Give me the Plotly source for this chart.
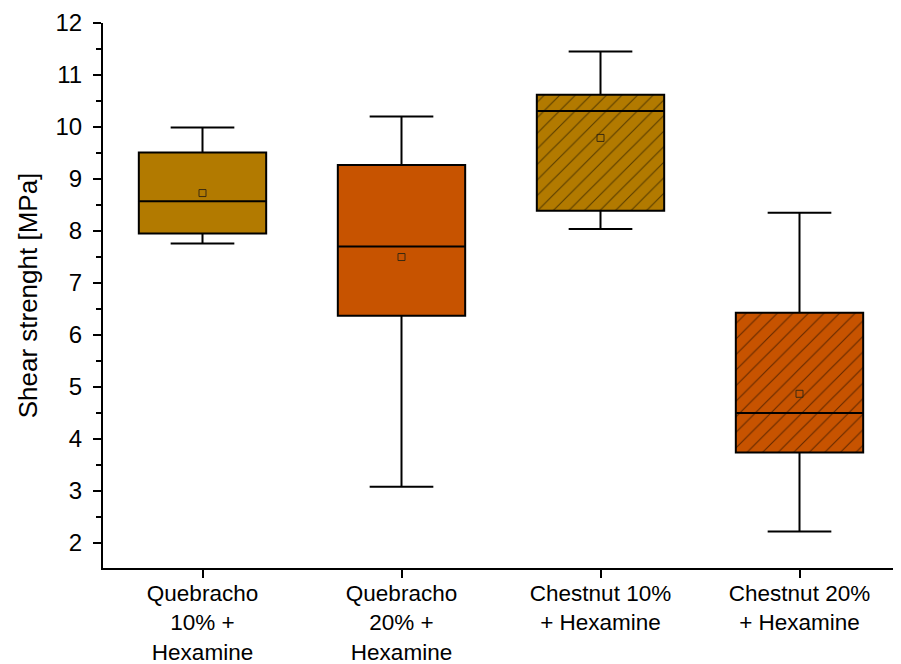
import plotly.graph_objects as go

categories = ["Quebracho<br>10% +<br>Hexamine", "Quebracho<br>20% +<br>Hexamine",
              "Chestnut 10%<br>+ Hexamine", "Chestnut 20%<br>+ Hexamine"]
lower_whisker = [7.76, 3.08, 8.04, 2.22]
q1 = [7.95, 6.37, 8.39, 3.74]
median = [8.57, 7.70, 10.31, 4.50]
q3 = [9.51, 9.27, 10.62, 6.43]
upper_whisker = [9.99, 10.20, 11.45, 8.35]
mean = [8.73, 7.50, 9.79, 4.87]
fill_colors = ["#B27A00", "#C75300", "#B27A00", "#C75300"]
hatched = [False, False, True, True]

BOX_W = 0.64
fig = go.Figure()

# hatched fills (drawn beneath the box outlines)
for i, cat in enumerate(categories):
    if hatched[i]:
        fig.add_trace(go.Bar(
            x=[i], y=[q3[i] - q1[i]], base=[q1[i]], width=BOX_W,
            marker=dict(color=fill_colors[i], line=dict(width=0),
                        pattern=dict(shape="/", fgcolor="#000000", size=11, solidity=0.1)),
            showlegend=False, hoverinfo="skip"))

for i, cat in enumerate(categories):
    fig.add_trace(go.Box(
        x=[i], q1=[q1[i]], median=[median[i]], q3=[q3[i]],
        lowerfence=[lower_whisker[i]], upperfence=[upper_whisker[i]],
        width=BOX_W, whiskerwidth=0.5,
        fillcolor="rgba(0,0,0,0)" if hatched[i] else fill_colors[i],
        line=dict(color="#000000", width=2),
        boxpoints=False, showlegend=False))

fig.add_trace(go.Scatter(
    x=list(range(len(categories))), y=mean, mode="markers",
    marker=dict(symbol="square-open", size=7, color="#3a2a10", line=dict(width=1)),
    showlegend=False))

fig.update_layout(
    width=901, height=664,
    margin=dict(l=95, r=10, t=15, b=104),
    paper_bgcolor="white", plot_bgcolor="white",
    boxmode="overlay", barmode="overlay",
    font=dict(family="Liberation Sans, Arial, sans-serif", color="#000000", size=22),
)
fig.update_xaxes(
    range=[-0.5, 3.5], tickmode="array", tickvals=list(range(len(categories))),
    ticktext=categories, showline=True, linecolor="#000000", linewidth=2,
    ticks="outside", ticklen=8, tickwidth=2, tickcolor="#000000",
    ticklabelstandoff=-4,
    showgrid=False, zeroline=False, tickfont=dict(size=22.5), automargin=False,
)
fig.update_yaxes(
    range=[1.52, 12], tickmode="linear", tick0=2, dtick=1,
    showline=True, linecolor="#000000", linewidth=2,
    ticks="outside", ticklen=8, tickwidth=2, tickcolor="#000000",
    ticklabelstandoff=6,
    minor=dict(ticks="outside", ticklen=5, tickwidth=2, tickcolor="#000000", dtick=0.5, tick0=2),
    showgrid=False, zeroline=False, tickfont=dict(size=24), automargin=False,
    title=dict(text="Shear strenght [MPa]", font=dict(size=26), standoff=10),
)
fig.write_html("out.html")
